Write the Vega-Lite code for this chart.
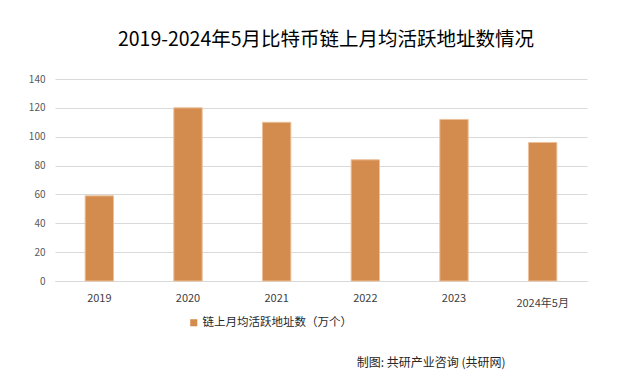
{
  "$schema": "https://vega.github.io/schema/vega-lite/v6.json",
  "autosize": "none",
  "width": 532,
  "height": 202,
  "padding": {"left": 55, "top": 79, "right": 30, "bottom": 107},
  "background": "white",
  "title": {
    "text": "2019-2024年5月比特币链上月均活跃地址数情况",
    "font": "Noto Sans CJK SC",
    "fontSize": 19.5,
    "fontWeight": "normal",
    "color": "#000000",
    "anchor": "middle",
    "dx": 5,
    "offset": 24
  },
  "data": {
    "values": [
      {"year": "2019", "value": 59, "series": "链上月均活跃地址数（万个）"},
      {"year": "2020", "value": 120, "series": "链上月均活跃地址数（万个）"},
      {"year": "2021", "value": 110, "series": "链上月均活跃地址数（万个）"},
      {"year": "2022", "value": 84, "series": "链上月均活跃地址数（万个）"},
      {"year": "2023", "value": 112, "series": "链上月均活跃地址数（万个）"},
      {"year": "2024年5月", "value": 96, "series": "链上月均活跃地址数（万个）"}
    ]
  },
  "mark": {"type": "bar", "stroke": "#EBC09A", "strokeWidth": 1},
  "encoding": {
    "x": {
      "field": "year",
      "type": "nominal",
      "sort": null,
      "scale": {"paddingInner": 0.68, "paddingOuter": 0.34},
      "axis": {
        "title": "制图: 共研产业咨询 (共研网)",
        "titleFont": "Noto Sans CJK SC",
        "titleFontSize": 12,
        "titleFontWeight": "normal",
        "titleColor": "#262626",
        "titleAnchor": "end",
        "titleAlign": "right",
        "titleBaseline": "alphabetic",
        "titleX": 450,
        "titleY": 85,
        "labelAngle": 0,
        "labelFont": "Noto Sans CJK SC",
        "labelFontSize": 11,
        "labelColor": "#404040",
        "labelPadding": {"condition": {"test": "datum.value === '2024年5月'", "value": 16}, "value": 11},
        "ticks": false,
        "domain": true,
        "domainColor": "#D9D9D9"
      }
    },
    "y": {
      "field": "value",
      "type": "quantitative",
      "scale": {"domain": [0, 140]},
      "axis": {
        "title": null,
        "values": [0, 20, 40, 60, 80, 100, 120, 140],
        "labelFont": "Noto Sans CJK SC",
        "labelFontSize": 10,
        "labelColor": "#595959",
        "labelPadding": 10,
        "ticks": false,
        "domain": false,
        "grid": true,
        "gridColor": "#D9D9D9",
        "gridWidth": 1
      }
    },
    "color": {
      "field": "series",
      "type": "nominal",
      "scale": {"range": ["#D48B4E"]},
      "legend": {
        "title": null,
        "orient": "none",
        "legendX": 133,
        "legendY": 238,
        "symbolType": "square",
        "symbolSize": 50,
        "symbolStrokeWidth": 0,
        "labelFont": "Noto Sans CJK SC",
        "labelFontSize": 11.5,
        "labelColor": "#262626",
        "labelOffset": 3
      }
    }
  },
  "config": {
    "view": {"stroke": null}
  }
}
